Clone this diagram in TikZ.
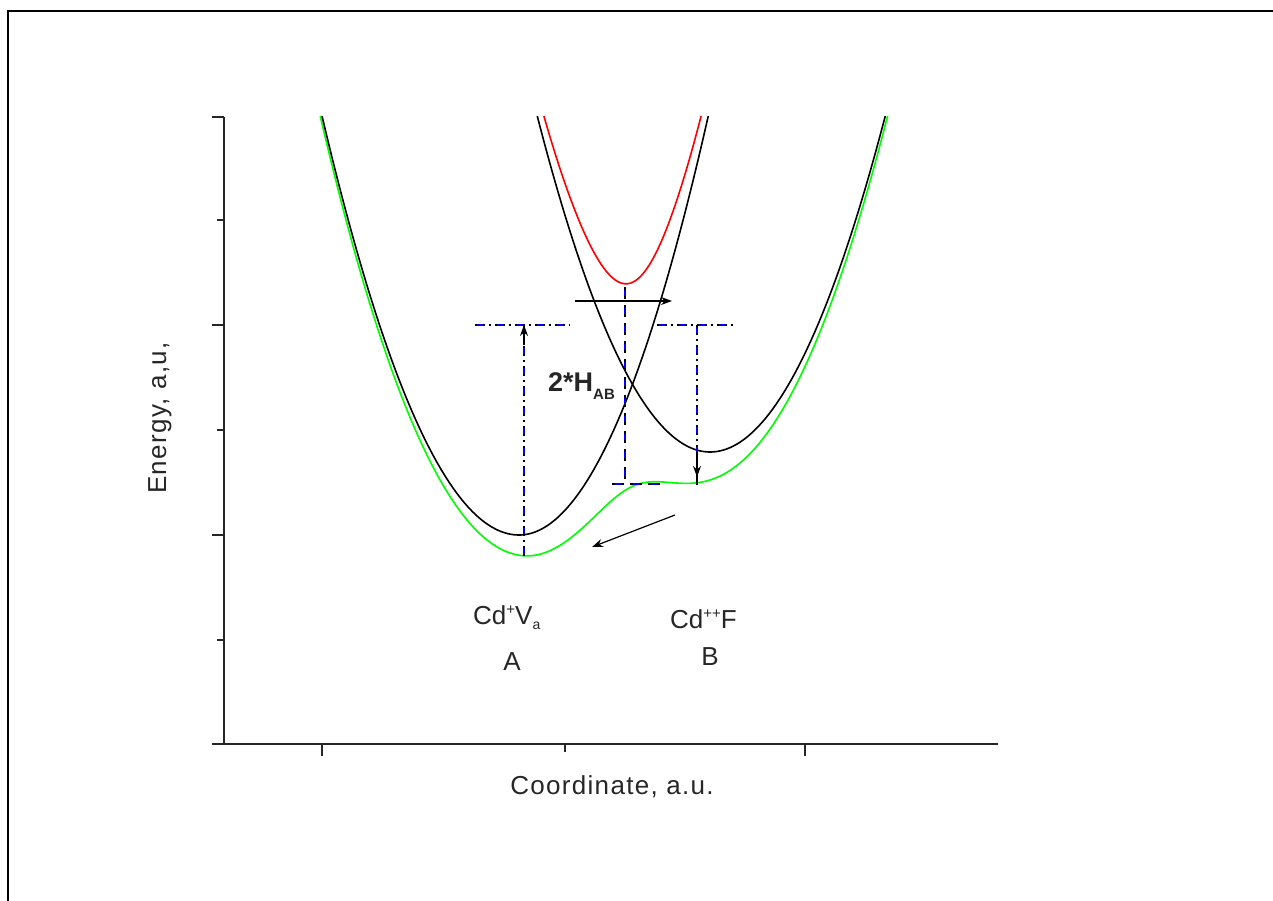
\documentclass[tikz,border=0pt]{standalone}
\usepackage{fontspec}
\setmainfont{Liberation Sans}
\newfontfamily\spacedfont[LetterSpace=5]{Liberation Sans}
\usetikzlibrary{arrows.meta}
\begin{document}
\begin{tikzpicture}[x=100pt,y=-100pt,
  declare function={
    ya(\x)=5.35-((\x<5.19)*1.08+(\x>=5.19)*1.17)*(\x-5.19)*(\x-5.19);
    yb(\x)=4.52-((\x<7.10)*1.126+(\x>=7.10)*1.094)*(\x-7.10)*(\x-7.10);
    avg(\x)=(ya(\x)+yb(\x))/2;
    dd(\x)=(ya(\x)-yb(\x))/2;
    ylow(\x)=avg(\x)+sqrt(dd(\x)*dd(\x)+1.02*1.02);
    yup(\x)=avg(\x)-sqrt(dd(\x)*dd(\x)+1.02*1.02);
  },
  axisline/.style={line width=1.6pt, black!85},
  curve/.style={line width=1.6pt},
  dashdotbl/.style={line width=1.4pt, black, dash pattern=on 10pt off 4pt on 2pt off 4pt,
     postaction={draw=blue, line width=1.4pt, dash pattern=on 6pt off 14pt, dash phase=18pt}},
  dashedbl/.style={line width=1.4pt, black, dash pattern=on 12pt off 6pt,
     postaction={draw=blue, line width=1.4pt, dash pattern=on 6pt off 12pt, dash phase=15pt}},
  arr/.style={line width=1.4pt, black, -{Stealth[length=11pt,width=8pt]}},
  lbl/.style={font=\fontsize{26}{30}\selectfont, text=black!85, inner sep=0pt},
]
\useasboundingbox (0,0) rectangle (12.73,9.01);
% frame
\draw[line width=2.5pt] (0.08,0.11) -- (12.9,0.11);
\draw[line width=1.2pt] (0.08,0.10) -- (0.08,9.2);
% axes
\coordinate (O) at (2.24,7.44);
\coordinate (Ytop) at (2.24,1.17);
\coordinate (Xend) at (9.98,7.44);
\draw[axisline] (Ytop) -- (O) -- (Xend);
\foreach \yy in {1.17,3.25,5.35,7.44} \draw[axisline] (2.12,\yy) -- (2.24,\yy);
\foreach \yy in {2.20,4.30,6.40} \draw[axisline] (2.17,\yy) -- (2.24,\yy);
\foreach \xx in {3.22,8.05} \draw[axisline] (\xx,7.44) -- (\xx,7.56);
\draw[axisline] (5.65,7.44) -- (5.65,7.52);
% curves
\begin{scope}
\clip (2.24,1.17) rectangle (9.98,7.44);
\draw[curve, color={rgb,255:red,0;green,255;blue,0}] plot[domain=3.15:8.95, samples=260, smooth] (\x,{ylow(\x)});
\draw[curve, black] plot[domain=3.15:7.25, samples=160, smooth] (\x,{ya(\x)});
\draw[curve, black] plot[domain=5.3:8.95, samples=160, smooth] (\x,{yb(\x)});
\draw[curve, red] plot[domain=5.35:7.1, samples=120, smooth] (\x,{yup(\x)});
\end{scope}
% construction lines
\coordinate (hL1) at (4.75,3.25); \coordinate (hL2) at (5.70,3.25);
\coordinate (hR1) at (6.57,3.25); \coordinate (hR2) at (7.37,3.25);
\coordinate (Ltop) at (5.24,3.25); \coordinate (Lbot) at (5.24,5.56);
\coordinate (Rtop) at (6.97,3.25); \coordinate (Bmin) at (6.97,4.52);
\coordinate (Gsh) at (6.97,4.85); \coordinate (Rtip) at (6.97,4.77);
\coordinate (Ctop) at (6.25,2.87); \coordinate (Ccorner) at (6.25,4.84);
\coordinate (Cleft) at (6.12,4.84); \coordinate (Cright) at (6.62,4.84);
\coordinate (Lhead) at (5.24,3.45);
\draw[dashdotbl] (hL1) -- (hL2);
\draw[dashdotbl] (hR1) -- (hR2);
\draw[dashdotbl] (Lbot) -- (Ltop);
\draw[dashdotbl] (Rtop) -- (Bmin);
\draw[dashedbl] (Ctop) -- (Ccorner);
\draw[dashedbl] (Cleft) -- (Cright);
\draw[arr] (Lhead) -- (Ltop);
\draw[line width=1.4pt] (Bmin) -- (Gsh);
\draw[arr] (Bmin) -- (Rtip);
% arrows
\coordinate (ha1) at (5.75,3.01); \coordinate (ha2) at (6.72,3.01);
\draw[arr] (ha1) -- (ha2);
\coordinate (da1) at (6.75,5.15); \coordinate (da2) at (5.92,5.47);
\draw[arr, line width=1.2pt] (da1) -- (da2);
% labels
\node[lbl, rotate=90] (ylab) at (1.60,4.18) {\spacedfont Energy, a,u,};
\node[lbl] (xlab) at (6.12,7.87) {\spacedfont Coordinate, a.u.};
\node[lbl, anchor=base west] (lA) at (4.73,6.24) {Cd\raisebox{10pt}{\fontsize{15}{15}\selectfont +}V\raisebox{-5pt}{\fontsize{14}{14}\selectfont a}};
\node[lbl] (A) at (5.12,6.62) {A};
\node[lbl, anchor=base west] (lB) at (6.70,6.28) {Cd\raisebox{10pt}{\fontsize{15}{15}\selectfont ++}F};
\node[lbl] (B) at (7.10,6.57) {B};
\node[lbl, anchor=base west, font=\bfseries\fontsize{27}{30}\selectfont] (H) at (5.48,3.91) {2*H\raisebox{-8pt}{\fontsize{15}{15}\selectfont AB}};
\end{tikzpicture}
\end{document}
